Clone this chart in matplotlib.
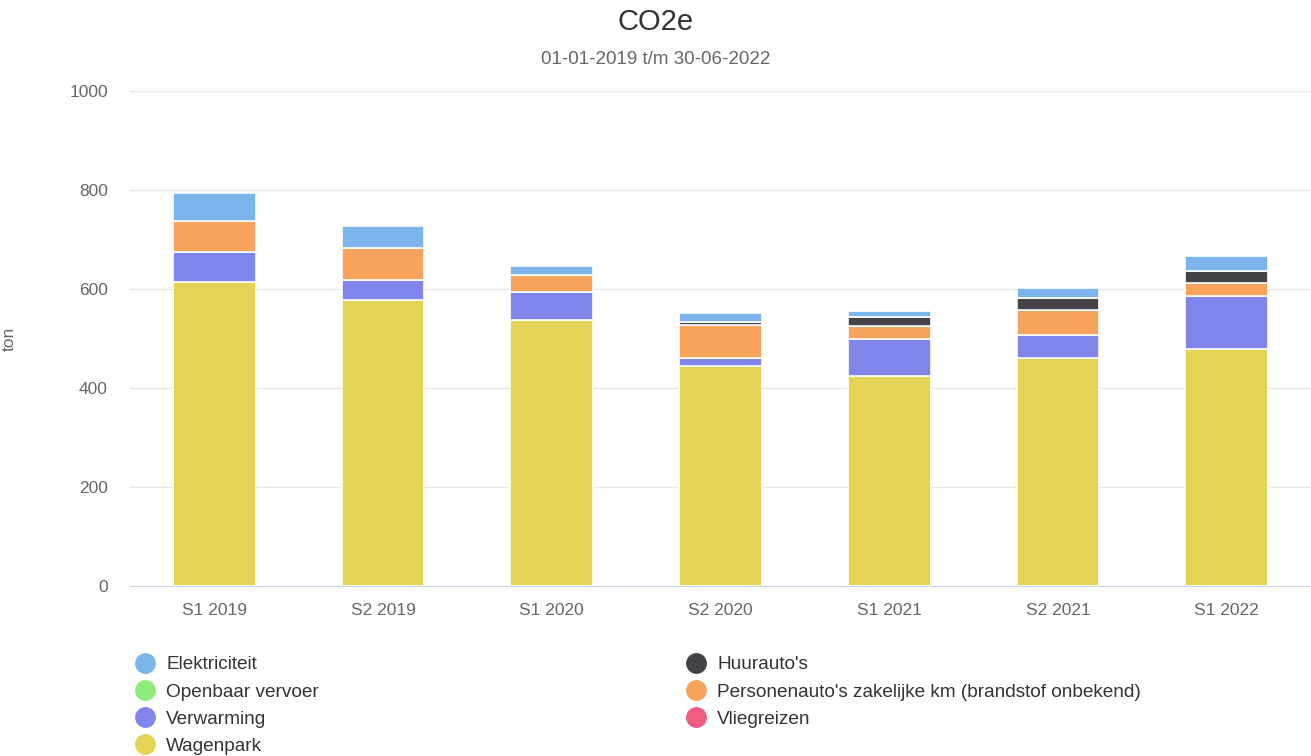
import matplotlib
matplotlib.use("Agg")
import matplotlib.pyplot as plt
from matplotlib.lines import Line2D
import numpy as np

plt.rcParams['font.family'] = ['Liberation Sans', 'DejaVu Sans']

periods = ["S1 2019", "S2 2019", "S1 2020", "S2 2020", "S1 2021", "S2 2021", "S1 2022"]

wagenpark = [614, 578, 537, 444, 424, 461, 479]
verwarming = [61, 40, 57, 17, 75, 46, 107]
personenauto = [62, 65, 34, 66, 26, 51, 26]
huurauto = [0, 0, 0, 6, 18, 24, 24]
elektriciteit = [57, 44, 18, 19, 13, 20, 31]
openbaar = [0, 0, 0, 0, 0, 0, 0]
vliegreizen = [0, 0, 0, 0, 0, 0, 0]

# stacked bottom -> top
stack = [
    ("Wagenpark", wagenpark, "#e4d354"),
    ("Verwarming", verwarming, "#8085e9"),
    ("Openbaar vervoer", openbaar, "#90ed7d"),
    ("Vliegreizen", vliegreizen, "#f15c80"),
    ("Personenauto's zakelijke km (brandstof onbekend)", personenauto, "#f7a35c"),
    ("Huurauto's", huurauto, "#434348"),
    ("Elektriciteit", elektriciteit, "#7cb5ec"),
]
colors = {name: c for name, _, c in stack}

fig = plt.figure(figsize=(13.11, 7.56), dpi=100)
ax = fig.add_axes([130 / 1311, (756 - 586) / 756, (1311 - 130) / 1311, 495 / 756])

x = np.arange(len(periods))
bottom = np.zeros(len(periods))
for name, vals, c in stack:
    vals = np.array(vals, dtype=float)
    if vals.sum() > 0:
        ax.bar(x, vals, 0.49, bottom=bottom, color=c, edgecolor="white", linewidth=1.2, zorder=3)
    bottom += vals

ax.set_xlim(-0.5, len(periods) - 0.5)
ax.set_ylim(0, 1000)
ax.set_yticks([0, 200, 400, 600, 800, 1000])
ax.set_xticks(x)
ax.set_xticklabels(periods)
ax.grid(axis="y", color="#e6e6e6", linewidth=1, zorder=0)
for s in ["top", "left", "right"]:
    ax.spines[s].set_visible(False)
ax.spines["bottom"].set_color("#ccd6eb")
ax.tick_params(axis="y", length=0, labelsize=12.5, colors="#666666", pad=16)
ax.tick_params(axis="x", length=0, labelsize=12.5, colors="#666666", pad=12)
ax.set_ylabel("ton", fontsize=12.5, color="#666666")
ax.yaxis.set_label_coords(-(130 - 17) / 1181, 0.5)

fig.text(0.5, 1 - 22 / 756, "CO2e", ha="center", va="center", fontsize=21, color="#333333")
fig.text(0.5, 1 - 60 / 756, "01-01-2019 t/m 30-06-2022", ha="center", va="center",
         fontsize=13.5, color="#666666")


def handle(name):
    return Line2D([], [], marker="o", linestyle="", markersize=14,
                  markerfacecolor=colors[name], markeredgecolor=colors[name], label=name)


left_names = ["Elektriciteit", "Openbaar vervoer", "Verwarming", "Wagenpark"]
right_names = ["Huurauto's", "Personenauto's zakelijke km (brandstof onbekend)", "Vliegreizen"]

for names, xpos in [(left_names, 135 / 1311), (right_names, 686 / 1311)]:
    leg = fig.legend(handles=[handle(n) for n in names], loc="upper left",
                     bbox_to_anchor=(xpos, 1 - 656 / 756), frameon=False,
                     fontsize=13.7, handlelength=1.0, handletextpad=0.65,
                     labelspacing=0.52, borderaxespad=0, borderpad=0)
    for t in leg.get_texts():
        t.set_color("#333333")

fig.savefig("out.png", dpi=100)
